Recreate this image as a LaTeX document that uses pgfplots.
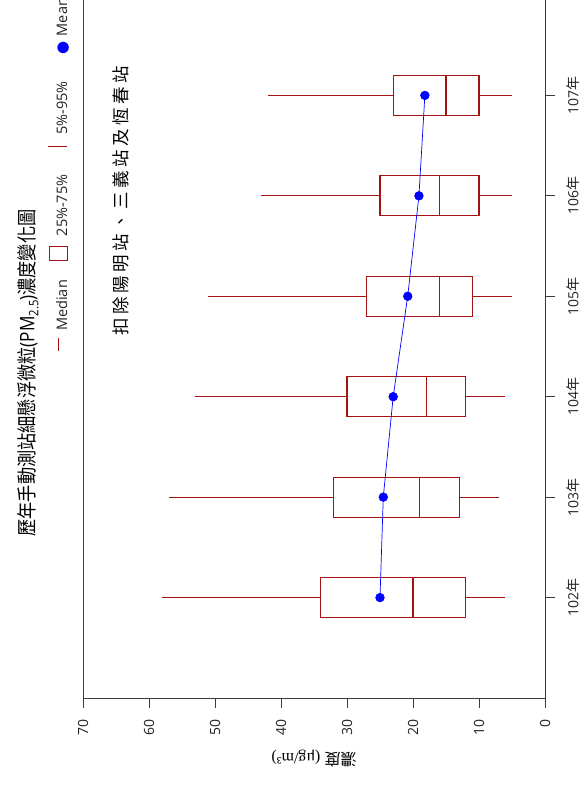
\documentclass[border=0pt]{standalone}
\usepackage{fontspec}
\setmainfont{Open Sans}
\newfontfamily\cjk{Noto Sans CJK TC}
\newfontfamily\cjksp[LetterSpace=20]{Noto Sans CJK TC}
\newfontfamily\serif{Liberation Serif}
\newfontfamily\dejavu{DejaVu Sans}
\usepackage{graphicx}
\usepackage{pgfplots}
\pgfplotsset{compat=1.18}
\usepgfplotslibrary{statistics}
\definecolor{dred}{RGB}{165,18,18}
\definecolor{axgray}{RGB}{60,60,60}
\definecolor{txtgray}{RGB}{35,35,35}
\newcommand\nian{{\cjk 年}}
\begin{document}
\begin{tikzpicture}[x=1pt,y=1pt]
\begin{axis}[
  at={(83pt,-698pt)}, anchor=south west,
  scale only axis, width=462pt, height=698pt,
  x dir=reverse, xmin=0, xmax=70,
  ymin=101, ymax=107.95,
  axis x line*=bottom, axis y line*=box,
  axis line style={axgray, line width=0.8pt},
  xtick={0,10,...,70},
  ytick={102,103,104,105,106,107},
  yticklabels={102\nian,103\nian,104\nian,105\nian,106\nian,107\nian},
  ytick pos=right, yticklabel pos=right,
  tick align=outside, major tick length=10pt,
  tick style={axgray, line width=0.8pt},
  /pgf/number format/assume math mode=true,
  xticklabel shift=8pt, yticklabel shift=8pt,
  xticklabel style={rotate=90, anchor=east, font=\fontsize{14}{14}\selectfont, text=txtgray},
  yticklabel style={rotate=90, anchor=north, font=\fontsize{14}{14}\selectfont, text=txtgray},
  boxplot/every box/.style={draw=dred, line width=1.1pt},
  boxplot/every whisker/.style={draw=dred, line width=1.1pt},
  boxplot/every median/.style={draw=dred, line width=1.1pt},
  clip=false,
]
\addplot[boxplot prepared={draw position=102, median=20, upper quartile=34, lower quartile=12, upper whisker=58, lower whisker=6, box extend=0.4, whisker extend=0}, draw=dred, forget plot] coordinates {};
\addplot[boxplot prepared={draw position=103, median=19, upper quartile=32, lower quartile=13, upper whisker=57, lower whisker=7, box extend=0.4, whisker extend=0}, draw=dred, forget plot] coordinates {};
\addplot[boxplot prepared={draw position=104, median=18, upper quartile=30, lower quartile=12, upper whisker=53, lower whisker=6, box extend=0.4, whisker extend=0}, draw=dred, forget plot] coordinates {};
\addplot[boxplot prepared={draw position=105, median=16, upper quartile=27, lower quartile=11, upper whisker=51, lower whisker=5, box extend=0.4, whisker extend=0}, draw=dred, forget plot] coordinates {};
\addplot[boxplot prepared={draw position=106, median=16, upper quartile=25, lower quartile=10, upper whisker=43, lower whisker=5, box extend=0.4, whisker extend=0}, draw=dred, forget plot] coordinates {};
\addplot[boxplot prepared={draw position=107, median=15, upper quartile=23, lower quartile=10, upper whisker=42, lower whisker=5, box extend=0.4, whisker extend=0}, draw=dred, forget plot] coordinates {};
\addplot[blue, line width=0.7pt, mark=*, mark size=4.3pt, mark options={solid, fill=blue}, forget plot] coordinates {(25,102) (24.5,103) (23,104) (20.8,105) (19.1,106) (18.2,107)};
\end{axis}
\node[rotate=90, anchor=base west, inner sep=0pt, text=txtgray] at (67pt,-351pt) {\fontsize{14.5}{14.5}\selectfont
  \textcolor{dred}{\rule[8.5pt]{13pt}{0.9pt}}\hspace{7pt}Median\hspace{19pt}%
  {\color{dred}\fboxsep=0pt\fboxrule=0.9pt\fbox{\rule{0pt}{17pt}\hspace{13pt}}}\hspace{10pt}25\%-75\%\hspace{28pt}%
  \textcolor{dred}{\rule{0.9pt}{19pt}}\hspace{11pt}5\%-95\%\hspace{27pt}%
  \textcolor{blue}{\fontsize{15}{15}\selectfont\dejavu ●}\hspace{5pt}Mean};
\node[rotate=90] at (28pt,-373pt) {\scalebox{0.86}[1]{\fontsize{20}{20}\selectfont{\cjk 歷年手動測站細懸浮微粒}(PM\raisebox{-4pt}{\fontsize{13}{13}\selectfont 2.5}){\cjk 濃度變化圖}}};
\node[rotate=90] at (121pt,-201pt) {\fontsize{17.5}{18}\selectfont\cjksp 扣除陽明站、三義站及恆春站};
\node[rotate=180] at (314pt,-759pt) {\fontsize{16}{16}\selectfont{\cjk 濃度} {\serif (μg/m³)}};
\pgfresetboundingbox
\path[use as bounding box] (0pt,0pt) rectangle (581pt,-791pt);
\end{tikzpicture}
\end{document}
